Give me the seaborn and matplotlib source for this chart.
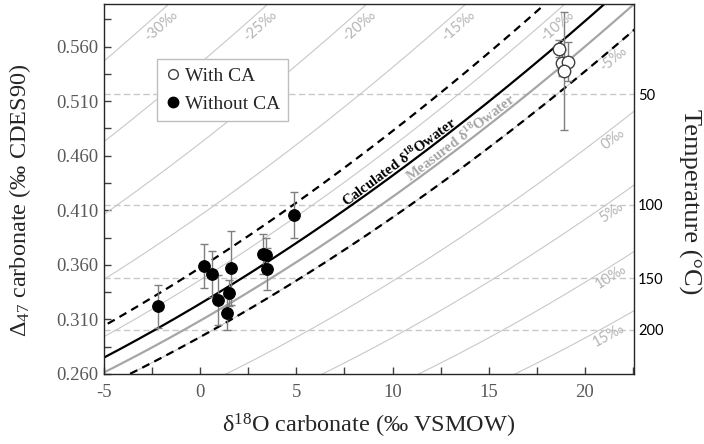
import numpy as np
import matplotlib
matplotlib.use("Agg")
import matplotlib.pyplot as plt
from matplotlib.lines import Line2D
from matplotlib.ticker import MultipleLocator, FormatStrFormatter
import seaborn as sns

# ====================== DATA ======================
# clumped isotope calibration: D47 = CAL_A * 1e6 / T^2 + CAL_B   (T in K)
CAL_A = 0.0422
CAL_B = 0.112
# calcite-water fractionation: 1000 ln(alpha) = FRAC_A / T + FRAC_B
FRAC_A = 18030.0
FRAC_B = -32.42

iso_water = [-30, -25, -20, -15, -10, -5, 0, 5, 10, 15]   # grey isolines, permil VSMOW
calc_water = -8.0                 # calculated d18O water
calc_water_band = [-11.0, -5.0]   # dashed bounds
meas_water = -6.5                 # measured d18O water

temp_ticks = [50, 100, 150, 200]  # degC, right axis
d47_ticks = [0.260, 0.310, 0.360, 0.410, 0.460, 0.510, 0.560]
d18o_ticks = [-5, 0, 5, 10, 15, 20]

# samples without CA (filled)
noca_d18o = [-2.2, 0.2, 0.6, 0.9, 1.6, 1.5, 1.4, 3.25, 3.4, 3.45, 4.9]
noca_d47 = [0.322, 0.359, 0.352, 0.328, 0.357, 0.334, 0.316, 0.370, 0.369, 0.356, 0.406]
noca_err = [0.020, 0.020, 0.021, 0.023, 0.034, 0.012, 0.016, 0.018, 0.016, 0.019, 0.021]

# samples with CA (open)
ca_d18o = [18.65, 18.8, 19.1, 18.9]
ca_d47 = [0.558, 0.545, 0.546, 0.538]
ca_err = [0.008, 0.012, 0.018, 0.054]

XLIM = (-5, 22.55)
YLIM = (0.26, 0.599)

# ====================== HELPERS ======================
T_K = np.linspace(250, 900, 3000)


def d47_of_temp(t_c):
    t = np.asarray(t_c, dtype=float) + 273.15
    return CAL_A * 1e6 / t**2 + CAL_B


def water_curve(dw):
    alpha = np.exp((FRAC_A / T_K + FRAC_B) / 1000.0)
    return (1000.0 + dw) * alpha - 1000.0, CAL_A * 1e6 / T_K**2 + CAL_B


def curve_label(ax, xs, ys, text, i0, back_px, normal_px, **kw):
    pts = ax.transData.transform(np.column_stack([xs, ys]))
    seg = np.hypot(*np.diff(pts, axis=0).T)
    cum = np.concatenate([[0], np.cumsum(seg)])
    j = np.searchsorted(cum, cum[i0] + back_px)
    j = min(max(j, 1), len(pts) - 2)
    d = pts[j - 1] - pts[j + 1]
    ang = np.degrees(np.arctan2(d[1], d[0]))
    nrm = np.array([-np.sin(np.radians(ang)), np.cos(np.radians(ang))])
    xd, yd = ax.transData.inverted().transform(pts[j] + normal_px * nrm)
    ax.text(xd, yd, text, rotation=ang, rotation_mode="anchor",
            ha="center", va="center", **kw)


# ====================== STYLE ======================
sns.set_style("ticks", {"xtick.direction": "in", "ytick.direction": "in"})
plt.rcParams["font.family"] = ["Liberation Serif", "DejaVu Serif"]
plt.rcParams["mathtext.default"] = "regular"
plt.rcParams["axes.unicode_minus"] = False

fig = plt.figure(figsize=(7.04, 4.44), dpi=100)
ax = fig.add_axes([104 / 704, 1 - 374 / 444, 530 / 704, 370 / 444])
ax.set_xlim(XLIM)
ax.set_ylim(YLIM)

# ====================== ISOLINES ======================
for dw in iso_water:
    xs, ys = water_curve(dw)
    sns.lineplot(x=xs, y=ys, ax=ax, sort=False, estimator=None,
                 color="#c8c8c8", lw=0.8, zorder=1)

for t in d47_of_temp(temp_ticks):
    ax.axhline(t, color="#c8c8c8", lw=1.0, ls=(0, (4.5, 2.5)), zorder=1)

# calculated / measured water curves
xs, ys = water_curve(calc_water)
sns.lineplot(x=xs, y=ys, ax=ax, sort=False, estimator=None, color="black", lw=1.6, zorder=2)
calc_xy = (xs, ys)
for dw in calc_water_band:
    bx, by = water_curve(dw)
    sns.lineplot(x=bx, y=by, ax=ax, sort=False, estimator=None, color="black",
                 lw=1.6, linestyle=(0, (3.6, 2.5)), zorder=2)
mx, my = water_curve(meas_water)
sns.lineplot(x=mx, y=my, ax=ax, sort=False, estimator=None, color="#a6a6a6", lw=1.6, zorder=2)

# ====================== SAMPLES ======================
ax.errorbar(noca_d18o, noca_d47, yerr=noca_err, fmt="none", ecolor="#7f7f7f",
            elinewidth=1, capsize=3, capthick=1, zorder=3)
ax.errorbar(ca_d18o, ca_d47, yerr=ca_err, fmt="none", ecolor="#7f7f7f",
            elinewidth=1, capsize=3, capthick=1, zorder=3)
sns.scatterplot(x=noca_d18o, y=noca_d47, ax=ax, s=70, color="black",
                edgecolor="black", linewidth=0.8, zorder=4)
sns.scatterplot(x=ca_d18o, y=ca_d47, ax=ax, s=80, color="white",
                edgecolor="#404040", linewidth=1, zorder=4)

ax.set_xlim(XLIM)
ax.set_ylim(YLIM)

# ====================== LABELS ON CURVES ======================
for dw in iso_water:
    xs, ys = water_curve(dw)
    inside = (xs >= XLIM[0]) & (xs <= XLIM[1]) & (ys >= YLIM[0]) & (ys <= YLIM[1])
    i0 = int(np.argmax(inside))
    at_top = ys[i0] > YLIM[1] - 0.004
    curve_label(ax, xs, ys, f"{dw}‰", i0, 19 if at_top else 33, -11 if at_top else -9,
                color="#b4b4b4", fontsize=10.5, family=["Lato", "DejaVu Sans"])

i_c = int(np.argmin(np.abs(calc_xy[0] - 10.55)))
curve_label(ax, calc_xy[0], calc_xy[1], r"Calculated δ$^{18}$Owater", i_c, 0, 7,
            color="black", fontsize=10.5, fontweight="bold")
i_m = int(np.argmin(np.abs(mx - 13.75)))
curve_label(ax, mx, my, r"Measured δ$^{18}$Owater", i_m, 0, 7,
            color="#a6a6a6", fontsize=10.5, fontweight="bold")

# ====================== AXES ======================
ax.set_xticks(d18o_ticks)
ax.set_yticks(d47_ticks)
ax.xaxis.set_minor_locator(MultipleLocator(2.5))
ax.yaxis.set_minor_locator(MultipleLocator(0.025, offset=0.01))
ax.yaxis.set_major_formatter(FormatStrFormatter("%.3f"))
ax.tick_params(which="both", direction="in", length=5, width=1.0, color="#404040",
               labelcolor="#595959", labelsize=13.5, top=False, right=False,
               bottom=True, left=True)
ax.tick_params(axis="x", pad=7)
ax.tick_params(axis="y", pad=4)
for sp in ax.spines.values():
    sp.set_visible(True)
    sp.set_color("#262626")
    sp.set_linewidth(1.0)

ax.set_xlabel(r"δ$^{18}$O carbonate (‰ VSMOW)", fontsize=17.5)
ax.xaxis.set_label_coords(0.5, -0.103)
ax.set_ylabel(r"Δ$_{47}$ carbonate (‰ CDES90)", fontsize=17.5)
ax.yaxis.set_label_coords(-0.134, 0.47)

ax2 = ax.twinx()
ax2.set_ylim(YLIM)
ax2.set_yticks(d47_of_temp(temp_ticks))
ax2.set_yticklabels([str(t) for t in temp_ticks], family=["Lato", "DejaVu Sans"])
ax2.tick_params(axis="y", length=0, pad=3, labelsize=10.5, labelcolor="black", right=True)
for sp in ax2.spines.values():
    sp.set_visible(False)
ax2.set_ylabel("Temperature (°C)", fontsize=19, rotation=270, va="center", ha="center")
ax2.yaxis.set_label_coords(1.104, 0.465)

# ====================== LEGEND ======================
handles = [
    Line2D([], [], ls="none", marker="o", ms=7, mfc="white", mec="#404040", mew=1),
    Line2D([], [], ls="none", marker="o", ms=7.5, mfc="black", mec="black"),
]
leg = ax.legend(handles, ["With CA", "Without CA"], loc="upper left",
                bbox_to_anchor=(0.1, 0.851), borderaxespad=0, fontsize=14,
                fancybox=False, framealpha=1, edgecolor="#bfbfbf",
                handlelength=0.8, handletextpad=0.25, labelspacing=0.55, borderpad=0.4)
leg.get_frame().set_linewidth(1.0)
leg.set_zorder(6)

fig.savefig("out.png", dpi=100)
